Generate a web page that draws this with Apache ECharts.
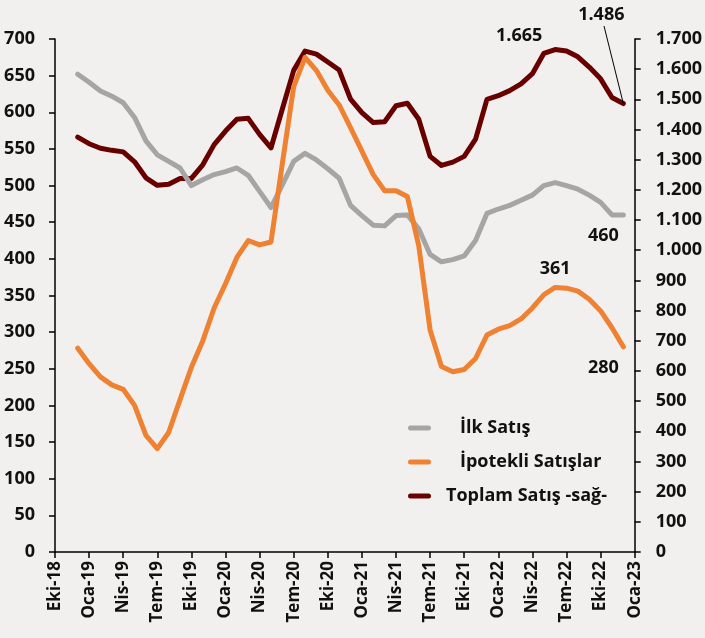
<!DOCTYPE html>
<html>
<head>
<meta charset="utf-8">
<script src="https://cdn.jsdelivr.net/npm/echarts@6/dist/echarts.min.js"></script>
<style>
  html, body { margin: 0; padding: 0; background: #f2f0ee; }
  #chart { width: 705px; height: 638px; }
</style>
</head>
<body>
<div id="chart"></div>
<script>
const monthNames = ['Oca', 'Şub', 'Mar', 'Nis', 'May', 'Haz', 'Tem', 'Ağu', 'Eyl', 'Eki', 'Kas', 'Ara'];
// Eki-18 ... Oca-23, one category per month
const months = [];
for (let y = 2018; y <= 2023; y++) {
    monthNames.forEach((m, i) => {
        const idx = (y - 2018) * 12 + i;
        if (idx >= 9 && idx <= 60) months.push(m + '-' + String(y).slice(2));
    });
}

// Eki-18, Kas-18 and Oca-23 have no data
const ilkSatis = [null, null,
    652, 641, 629, 622, 613, 593, 561, 542, 533, 524,
    500, 508, 515, 519, 524, 514, 492, 470, 501, 533, 544, 535,
    523, 510, 473, 459, 446, 445, 459, 460, 441, 406, 396, 399,
    404, 425, 462, 468, 473, 480, 487, 500, 504, 500, 495, 487,
    477, 460, 460, null];

const ipotekli = [null, null,
    278, 257, 239, 228, 222, 200, 159, 141, 163, 208,
    252, 288, 333, 366, 402, 425, 419, 423, 530, 635, 675, 657,
    630, 610, 579, 547, 515, 493, 493, 485, 418, 303, 253, 246,
    249, 264, 296, 304, 309, 318, 333, 351, 361, 360, 356, 345,
    329, 306, 280, null];

const toplam = [null, null,
    1375, 1353, 1338, 1331, 1326, 1293, 1240, 1215, 1219, 1238,
    1238, 1283, 1350, 1395, 1434, 1437, 1384, 1339, 1468, 1596, 1660, 1650,
    1624, 1597, 1501, 1456, 1423, 1426, 1479, 1487, 1434, 1311, 1281, 1292,
    1311, 1368, 1500, 1512, 1529, 1551, 1585, 1652, 1665, 1660, 1641, 1607,
    1568, 1506, 1486, null];

const seriesNames = ['İlk Satış', 'İpotekli Satışlar', 'Toplam Satış -sağ-'];
const colors = ['#a5a5a5', '#ef8133', '#680000'];

const FONT = 'Open Sans';
const dotted = (v) => String(v).replace(/\B(?=(\d{3})+(?!\d))/g, '.');

const labelStyle = { show: true, fontFamily: FONT, fontWeight: 'bold', fontSize: 18, color: '#111' };

// labels only on a few points
const withLabels = (arr, labels) => arr.map((v, i) => labels[i] ? { value: v, ...labels[i] } : v);

const grayData = withLabels(ilkSatis, {
    50: { label: { ...labelStyle, position: 'bottom', distance: 12 } }
});
const orangeData = withLabels(ipotekli, {
    44: { label: { ...labelStyle, position: 'top', distance: 10 } },
    50: { label: { ...labelStyle, position: 'bottom', distance: 12 } }
});
const redData = withLabels(toplam, {
    44: { label: { ...labelStyle, position: 'top', distance: 5, formatter: (p) => dotted(p.value) } },
    50: { label: { ...labelStyle, position: 'top', distance: 5, formatter: (p) => dotted(p.value) } }
});

// moves of the few labels, per series
const grayShift = { 50: { dx: -20, dy: 0 } };
const orangeShift = { 50: { dx: -20, dy: 0 } };
const redShift = { 44: { dx: -36, dy: 0 }, 50: { dx: -22, dy: -75 } };

const axisText = { fontFamily: FONT, fontWeight: 'bold', fontSize: 18, color: '#111' };
const axisLine = { show: true, lineStyle: { color: '#000', width: 1.5 } };

const lineSeries = (name, data, color, yAxisIndex, z, shifts) => ({
    name: name,
    type: 'line',
    data: data,
    yAxisIndex: yAxisIndex,
    z: z,
    color: color,
    symbol: 'circle',
    symbolSize: 0,
    showSymbol: true,
    showAllSymbol: true,
    connectNulls: false,
    lineStyle: { color: color, width: 5, cap: 'round', join: 'round' },
    itemStyle: { color: color },
    emphasis: { disabled: true },
    labelLayout: (params) => shifts[params.dataIndex],
    animation: false
});

const capsule = 'path://M2.5,0 H20.5 A2.5,2.5 0 0 1 20.5,5 H2.5 A2.5,2.5 0 0 1 2.5,0 Z';

const redSeries = lineSeries(seriesNames[2], redData, colors[2], 1, 2, redShift);
// leader line from the last point up to its label
redSeries.markLine = {
    silent: true,
    symbol: 'none',
    animation: false,
    label: { show: false },
    lineStyle: { color: '#000', width: 1, type: 'solid' },
    data: [[
        { coord: [months.length - 2, toplam[toplam.length - 2]] },
        { x: 604, y: 26 }
    ]]
};

const option = {
    backgroundColor: '#f2f0ee',
    animation: false,
    grid: { left: 55, right: 69, top: 39, bottom: 86 },
    legend: {
        orient: 'vertical',
        left: 408,
        top: 418,
        padding: 0,
        itemWidth: 23,
        itemHeight: 5,
        itemGap: 14,
        icon: capsule,
        textStyle: { fontFamily: FONT, fontWeight: 'bold', fontSize: 18, color: '#111', lineHeight: 20 },
        data: [
            { name: seriesNames[0], textStyle: { padding: [0, 0, 0, 24] } },
            { name: seriesNames[1], textStyle: { padding: [0, 0, 0, 24] } },
            { name: seriesNames[2], textStyle: { padding: [0, 0, 0, 10] } }
        ]
    },
    xAxis: {
        type: 'category',
        data: months,
        boundaryGap: false,
        axisLine: axisLine,
        axisTick: { show: true, interval: 2, inside: false, length: 6, lineStyle: { color: '#000', width: 1.5 } },
        axisLabel: { ...axisText, fontSize: 17, rotate: 90, interval: 2, margin: 9 },
        splitLine: { show: false }
    },
    yAxis: [
        {
            type: 'value',
            min: 0, max: 700, interval: 50,
            axisLine: axisLine,
            axisTick: { show: true, length: 6, lineStyle: { color: '#000', width: 1.5 } },
            axisLabel: { ...axisText, margin: 20 },
            splitLine: { show: false }
        },
        {
            type: 'value',
            min: 0, max: 1700, interval: 100,
            position: 'right',
            axisLine: axisLine,
            axisTick: { show: true, length: 6, lineStyle: { color: '#000', width: 1.5 } },
            axisLabel: { ...axisText, margin: 21, formatter: dotted },
            splitLine: { show: false }
        }
    ],
    series: [
        redSeries,
        lineSeries(seriesNames[0], grayData, colors[0], 0, 3, grayShift),
        lineSeries(seriesNames[1], orangeData, colors[1], 0, 4, orangeShift)
    ]
};

const chart = echarts.init(document.getElementById('chart'), null, { renderer: 'canvas' });
chart.setOption(option);
</script>
</body>
</html>
